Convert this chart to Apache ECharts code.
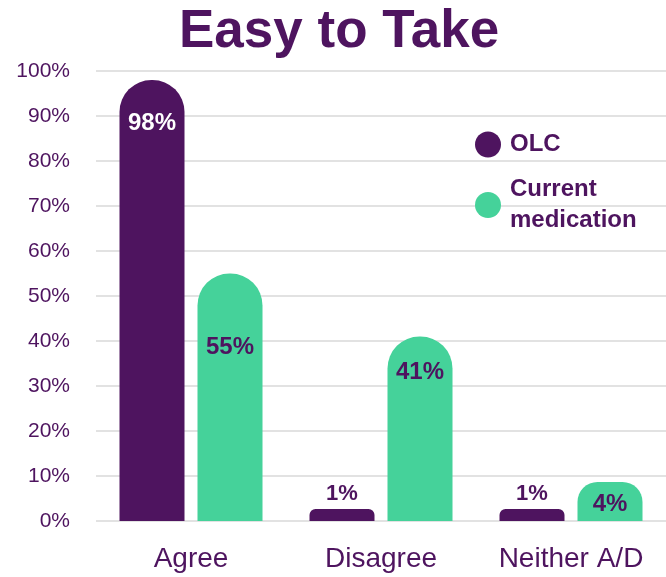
<!DOCTYPE html>
<html><head><meta charset="utf-8">
<script src="https://cdn.jsdelivr.net/npm/echarts@6/dist/echarts.min.js"></script>
<style>html,body{margin:0;padding:0;background:#fff}#c{width:666px;height:577px}</style>
</head><body><div id="c"></div>
<script>
const categories = ['Agree', 'Disagree', 'Neither A/D'];
const olc = [98, 1, 1];
const currentMed = [55, 41, 4];
const yTicks = [0, 10, 20, 30, 40, 50, 60, 70, 80, 90, 100];

const PURPLE = '#4E145F';
const GREEN = '#45D29A';
const FONT = '"Liberation Sans", Arial, sans-serif';

// label placement per series/category (styling only)
const olcLabelDist = [31, 4, 4];
const curLabelDist = [62, 24, 5];

function labelFor(v, isOlc, idx) {
  if (isOlc && v < 3) return { show: true, position: 'top', distance: olcLabelDist[idx], color: PURPLE, fontSize: 22, fontWeight: 'bold', fontFamily: FONT, formatter: '{c}%' };
  if (!isOlc && v < 10) return { show: true, position: 'insideBottom', distance: curLabelDist[idx], color: PURPLE, fontSize: 24, fontWeight: 'bold', fontFamily: FONT, formatter: '{c}%' };
  return { show: true, position: 'insideTop', distance: isOlc ? olcLabelDist[idx] : curLabelDist[idx], color: isOlc ? '#fff' : PURPLE, fontSize: 24, fontWeight: 'bold', fontFamily: FONT, formatter: '{c}%' };
}

const chart = echarts.init(document.getElementById('c'));
chart.setOption({
  backgroundColor: '#fff',
  animation: false,
  title: { text: 'Easy to Take', left: 174, top: 1, textStyle: { color: PURPLE, fontSize: 53, fontWeight: 'bold', fontFamily: FONT } },
  legend: {
    orient: 'vertical', left: 470, top: 124, icon: 'circle', itemWidth: 26, itemHeight: 26, itemGap: 14,
    textStyle: { color: PURPLE, fontSize: 24, fontWeight: 'bold', fontFamily: FONT, lineHeight: 31, padding: [0, 0, 0, 4] },
    formatter: n => n === 'Current medication' ? 'Current\nmedication' : n,
    data: ['OLC', 'Current medication']
  },
  grid: { left: 96, width: 574, top: 71, bottom: 56 },
  xAxis: {
    type: 'category', data: categories,
    axisLine: { show: false }, axisTick: { show: false },
    axisLabel: { color: PURPLE, fontSize: 28, fontFamily: FONT, margin: 24 }
  },
  yAxis: {
    type: 'value', min: yTicks[0], max: yTicks[yTicks.length - 1], interval: yTicks[1] - yTicks[0],
    axisLabel: { color: PURPLE, fontSize: 21, fontFamily: FONT, margin: 26, formatter: v => v + '%' },
    splitLine: { lineStyle: { color: '#d9d9d9', width: 1.5 } },
    axisLine: { show: false }, axisTick: { show: false }
  },
  series: [
    { name: 'OLC', type: 'bar', barWidth: 65, barGap: '20%', barMinHeight: 12, itemStyle: { color: PURPLE, borderRadius: [32, 32, 0, 0] },
      data: olc.map((v, i) => ({ value: v, label: labelFor(v, true, i), itemStyle: v < 3 ? { borderRadius: [6, 6, 0, 0] } : undefined })) },
    { name: 'Current medication', type: 'bar', barWidth: 65, barMinHeight: 39, itemStyle: { color: GREEN, borderRadius: [32, 32, 0, 0] },
      data: currentMed.map((v, i) => ({ value: v, label: labelFor(v, false, i), itemStyle: v < 10 ? { borderRadius: [20, 20, 0, 0] } : undefined })) }
  ]
});
</script></body></html>
